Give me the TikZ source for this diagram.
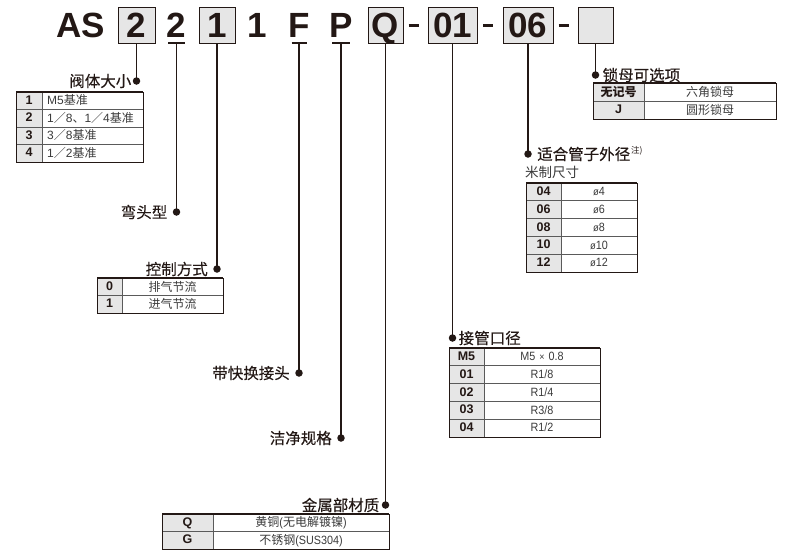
\documentclass[tikz,border=0pt]{standalone}
\usepackage{fontspec}
\setmainfont{Liberation Sans}
\newfontfamily\cjk{Noto Sans CJK SC}
\newfontfamily\cjkt[FakeBold=0.3]{Noto Sans CJK SC}
\newfontfamily\latc[FakeStretch=0.9]{Liberation Sans}
\newcommand\cn[1]{{\cjk #1}}
\definecolor{ink}{HTML}{231815}
\definecolor{cellgray}{HTML}{E6E6E6}
\definecolor{gridc}{HTML}{5A5A5A}
\definecolor{celltxt}{HTML}{3A3A3A}
\tikzset{
  code/.style={font=\bfseries\fontsize{35}{35}\selectfont, text=ink, inner sep=0, anchor=base},
  codebox/.style={draw=ink, line width=1pt, fill=cellgray, minimum height=36, inner sep=0},
  conn/.style={draw=ink, line width=1.3pt},
  dashln/.style={draw=ink, line width=3pt},
  dot/.style={circle, fill=ink, minimum size=7.5, inner sep=0},
  ttl/.style={font=\cjkt\fontsize{15.5}{16}\selectfont, text=ink, inner sep=0},
  cell/.style={font=\latc\fontsize{12}{12}\selectfont, text=celltxt, inner sep=0, text height=9.5, text depth=2},
  zcell/.style={cell, font=\cjk\fontsize{12}{12}\selectfont, text height=10, text depth=1},
  kcell/.style={cell, text=ink, font=\bfseries\fontsize{12.5}{12}\selectfont, text height=9, text depth=2},
}
\newcommand\tabgrid[6]{%
  \pgfmathsetmacro\ybot{#4+#5*#6}
  \fill[cellgray] (#1,#4) rectangle (#2,\ybot);
  \foreach \i [evaluate=\i as \yy using #4+\i*#6] in {1,...,#5}
    {\draw[gridc, line width=0.8pt] (#1,\yy) -- (#3,\yy);}
  \draw[gridc, line width=0.8pt] (#2,#4) -- (#2,\ybot);
  \draw[ink, line width=1pt] (#1,#4) rectangle (#3,\ybot);
  \draw[ink, line width=1.7pt] (#1,#4) -- (#3,#4);
}
\begin{document}
\begin{tikzpicture}[x=1pt, y=-1pt]
\useasboundingbox (0,0) rectangle (790,558);

% ---- code row
\node[code, anchor=base west] (as) at (56,37) {AS};
\node[codebox, minimum width=37] (b2) at (136.5,25) {};
\node[code] at (136.5,37) {2};
\node[code] (t2) at (176.5,37) {2};
\node[codebox, minimum width=36] (b1) at (217,25) {};
\node[code] at (217,37) {1};
\node[code] (t1) at (257.5,37) {1};
\node[code] (tf) at (299,37) {F};
\node[code] (tp) at (341,37) {P};
\node[codebox, minimum width=35] (bq) at (385.5,25) {};
\node[code] at (385.5,37) {Q};
\node[codebox, minimum width=49] (b01) at (452.5,25) {};
\node[code] at (452.5,37) {01};
\node[codebox, minimum width=50] (b06) at (528,25) {};
\node[code] at (528,37) {06};
\node[codebox, minimum width=35] (be) at (595.5,25) {};
\draw[dashln] ([xshift=5]bq.east) -- ([xshift=-9]b01.west);
\draw[dashln] ([xshift=5.5]b01.east) -- ([xshift=-9.5]b06.west);
\draw[dashln] ([xshift=5]b06.east) -- ([xshift=-9]be.west);

\coordinate (u2) at (176.5,43);
\coordinate (uf) at (299,43);
\coordinate (up) at (341,43);
\draw[conn] ([xshift=-8.5]u2) -- ([xshift=8.5]u2);
\draw[conn] ([xshift=-7.5]uf) -- ([xshift=7.5]uf);
\draw[conn] ([xshift=-9]up) -- ([xshift=9]up);

% ---- dots
\node[dot] (d1) at (136.5,81) {};
\node[dot] (d2) at (176.5,212) {};
\node[dot] (d3) at (217,269) {};
\node[dot] (d4) at (299,373) {};
\node[dot] (d5) at (341,438) {};
\node[dot] (d6) at (385.5,505) {};
\node[dot] (d7) at (452.5,338) {};
\node[dot] (d8) at (528,154) {};
\node[dot] (d9) at (595.5,75) {};

\draw[conn] (b2.south) -- (d1.center);
\draw[conn] (u2) -- (d2.center);
\draw[conn] (b1.south) -- (d3.center);
\draw[conn] (uf) -- (d4.center);
\draw[conn] (up) -- (d5.center);
\draw[conn] (bq.south) -- (d6.center);
\draw[conn] (b01.south) -- (d7.center);
\draw[conn] (b06.south) -- (d8.center);
\draw[conn] (be.south) -- (d9.center);

% ---- titles
\node[ttl, anchor=east] (h1) at ([xshift=-5]d1.center) {阀体大小};
\node[ttl, anchor=east] (h2) at ([xshift=-9]d2.center) {弯头型};
\node[ttl, anchor=east] (h3) at ([xshift=-9]d3.center) {控制方式};
\node[ttl, anchor=east] (h4) at ([xshift=-9]d4.center) {带快换接头};
\node[ttl, anchor=east] (h5) at ([xshift=-9]d5.center) {洁净规格};
\node[ttl, anchor=east] (h6) at ([xshift=-6]d6.center) {金属部材质};
\node[ttl, anchor=west] (h7) at ([xshift=6]d7.center) {接管口径};
\node[ttl, anchor=west] (h8) at ([xshift=9]d8.center) {适合管子外径};
\node[anchor=north west, inner sep=0, font=\cjk\fontsize{8.5}{8.5}\selectfont, text=ink] (h8s) at ([xshift=0.5,yshift=0.5]h8.north east) {注)};
\node[anchor=west, inner sep=0, font=\cjk\fontsize{13.5}{14}\selectfont, text=celltxt] (h8b) at (525,172) {米制尺寸};
\node[ttl, anchor=west] (h9) at ([xshift=7]d9.center) {锁母可选项};

% ---- table 1: 阀体大小
\tabgrid{16}{42}{143}{92}{4}{17.5}
\foreach \k/\a/\b in {1/1/{M5\cn{基准}}, 2/2/{1\cn{／}8\cn{、}1\cn{／}4\cn{基准}}, 3/3/{3\cn{／}8\cn{基准}}, 4/4/{1\cn{／}2\cn{基准}}}{
  \node[kcell] at (29,{92+(\k-0.5)*17.5}) {\a};
  \node[cell, anchor=west, font=\fontsize{12}{12}\selectfont] at (47,{92+(\k-0.5)*17.5}) {\b};
}

% ---- table 2: 控制方式
\tabgrid{97}{122}{223}{278}{2}{17.5}
\foreach \k/\a/\b in {1/0/排气节流, 2/1/进气节流}{
  \node[kcell] at (109.5,{278+(\k-0.5)*17.5}) {\a};
  \node[zcell] at (172.5,{278+(\k-0.5)*17.5}) {\b};
}

% ---- table 3: 锁母可选项
\tabgrid{593}{644}{776}{83}{2}{18}
\node[kcell, font=\cjk\bfseries\fontsize{12}{12}\selectfont, text height=10, text depth=1] at (618.5,92) {无记号};
\node[kcell] at (618.5,110) {J};
\node[zcell] at (710,92) {六角锁母};
\node[zcell] at (710,110) {圆形锁母};

% ---- table 4: 适合管子外径
\tabgrid{526}{561}{637}{183}{5}{17.8}
\foreach \k/\a/\b in {1/04/4, 2/06/6, 3/08/8, 4/10/10, 5/12/12}{
  \node[kcell] at (543.5,{183+(\k-0.5)*17.8}) {\a};
  \node[cell] at (599,{183+(\k-0.5)*17.8}) {{\fontsize{10.5}{10}\selectfont ø}\b};
}

% ---- table 5: 接管口径
\tabgrid{449}{484}{600}{348}{5}{17.8}
\foreach \k/\a/\b in {1/M5/{M5\,\,{\fontsize{10}{10}\selectfont×}\,\,0.8}, 2/01/{R1/8}, 3/02/{R1/4}, 4/03/{R3/8}, 5/04/{R1/2}}{
  \node[kcell] at (466.5,{348+(\k-0.5)*17.8}) {\a};
  \node[cell] at (542,{348+(\k-0.5)*17.8}) {\b};
}

% ---- table 6: 金属部材质
\tabgrid{162}{213}{389}{514}{2}{17.5}
\node[kcell] at (187.5,522.75) {Q};
\node[kcell] at (187.5,540.25) {G};
\node[cell] at (301,522.75) {\cn{黄铜}(\cn{无电解镀镍})};
\node[cell] at (301,540.25) {\cn{不锈钢}(SUS304)};
\end{tikzpicture}
\end{document}
